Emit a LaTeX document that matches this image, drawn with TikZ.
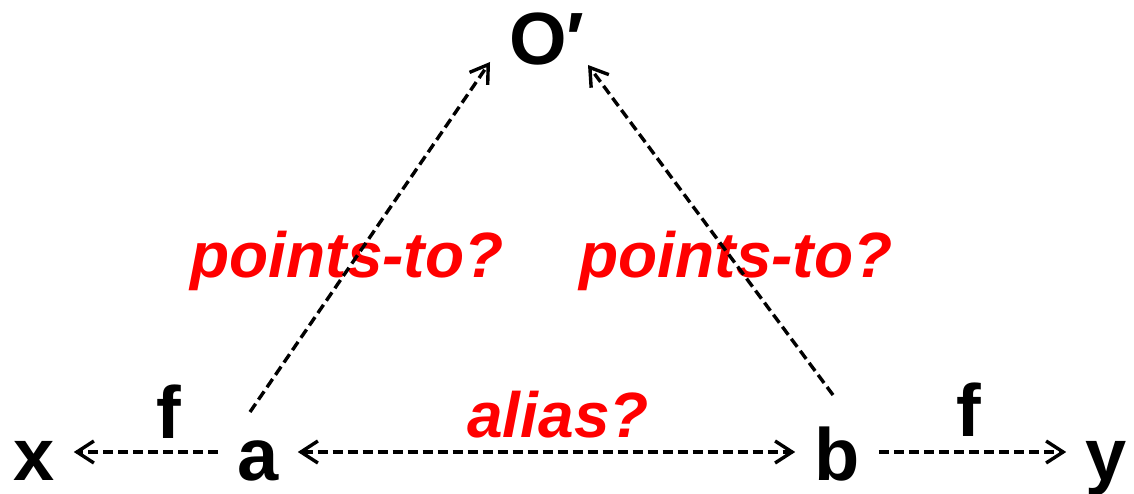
\documentclass[tikz,border=0pt]{standalone}
\usepackage{fontspec}
\setmainfont{Liberation Sans}
\usetikzlibrary{arrows.meta}
\begin{document}
\begin{tikzpicture}[x=1pt,y=-1pt,
  letter/.style={font=\fontsize{74}{80}\selectfont\bfseries, inner ysep=0pt, inner xsep=19pt,
     text height=56pt, text depth=0pt, anchor=base},
  toplabel/.style={font=\fontsize{74}{80}\selectfont\bfseries, inner sep=0pt, anchor=base},
  flabel/.style={font=\fontsize{74}{80}\selectfont\bfseries, inner sep=0pt, anchor=base},
  redlabel/.style={font=\fontsize{64}{70}\selectfont\bfseries\itshape, text={rgb,255:red,255;green,0;blue,0}, inner sep=0pt, anchor=base},
  conn/.style={line width=3.4pt, dash pattern=on 10pt off 5pt, -{Straight Barb[length=17pt,width=22pt,line width=3.4pt]}},
  conn2/.style={conn, {Straight Barb[length=17pt,width=22pt,line width=3.4pt]}-{Straight Barb[length=17pt,width=22pt,line width=3.4pt]}}
]
\useasboundingbox (0,0) rectangle (1134,494);
% red labels first (connectors drawn over them)
\node[redlabel] (pl) at (347,277) {points-to?};
\node[redlabel] (pr) at (736,277) {points-to?};
\node[redlabel] (al) at (558,437) {alias?};
% main nodes
\node[letter] (x) at (34,480) {x};
\node[letter] (a) at (258,480) {a};
\node[letter] (b) at (837,480) {b};
\node[letter] (y) at (1106,480) {y};
\node[toplabel] (O) at (547,65) {O′};
\node[flabel] (f1) at (169,438) {f};
\node[flabel] (f2) at (969,436) {f};
% endpoints of the diagonal connectors
\coordinate (aup) at (250,412);
\coordinate (bup) at (833,395);
\coordinate (oleft) at (490,62);
\coordinate (oright) at (588,65);
% connectors
\draw[conn] (a.west) -- (x.east);
\draw[conn2] (a.east) -- (b.west);
\draw[conn] (b.east) -- (y.west);
\draw[conn] (aup) -- (oleft);
\draw[conn] (bup) -- (oright);
\end{tikzpicture}
\end{document}
